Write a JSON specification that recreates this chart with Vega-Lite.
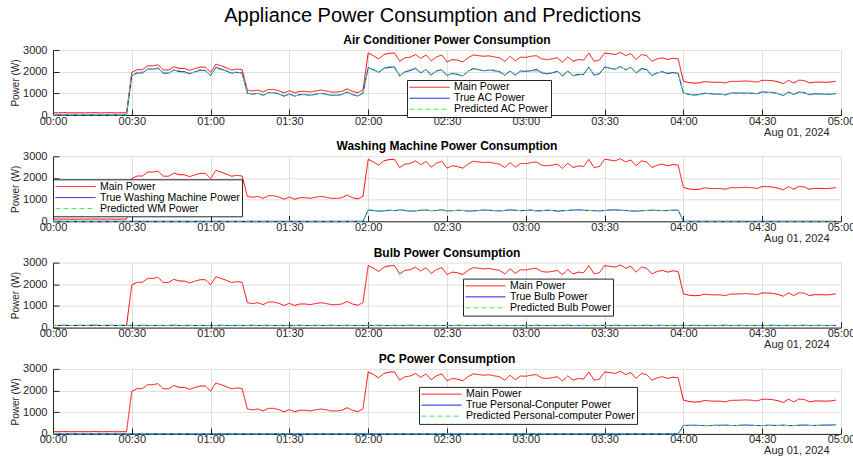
{
"$schema":"https://vega.github.io/schema/vega-lite/v6.json",
"padding":{"left":10,"top":6,"right":5,"bottom":0},
"title":{"text":"Appliance Power Consumption and Predictions","fontSize":20,"fontWeight":"normal","color":"#000000","anchor":"middle","offset":8},
"data":{"values":[
{"t":0,"m":102,"a":0,"ap":0,"w":0,"wp":0,"b":102,"bp":107,"p":0,"pp":0},
{"t":2,"m":98,"a":0,"ap":0,"w":0,"wp":0,"b":98,"bp":90,"p":0,"pp":0},
{"t":4,"m":105,"a":0,"ap":0,"w":0,"wp":0,"b":105,"bp":108,"p":0,"pp":0},
{"t":6,"m":100,"a":0,"ap":0,"w":0,"wp":0,"b":100,"bp":96,"p":0,"pp":0},
{"t":8,"m":97,"a":0,"ap":0,"w":0,"wp":0,"b":97,"bp":106,"p":0,"pp":0},
{"t":10,"m":103,"a":0,"ap":0,"w":0,"wp":0,"b":103,"bp":97,"p":0,"pp":0},
{"t":12,"m":99,"a":0,"ap":0,"w":0,"wp":0,"b":99,"bp":101,"p":0,"pp":0},
{"t":14,"m":101,"a":0,"ap":0,"w":0,"wp":0,"b":101,"bp":98,"p":0,"pp":0},
{"t":16,"m":106,"a":0,"ap":0,"w":0,"wp":0,"b":106,"bp":113,"p":0,"pp":0},
{"t":18,"m":98,"a":0,"ap":0,"w":0,"wp":0,"b":98,"bp":93,"p":0,"pp":0},
{"t":20,"m":100,"a":0,"ap":0,"w":0,"wp":0,"b":100,"bp":104,"p":0,"pp":0},
{"t":22,"m":104,"a":0,"ap":0,"w":0,"wp":0,"b":104,"bp":95,"p":0,"pp":0},
{"t":24,"m":96,"a":0,"ap":0,"w":0,"wp":0,"b":96,"bp":102,"p":0,"pp":0},
{"t":26,"m":102,"a":0,"ap":0,"w":0,"wp":0,"b":102,"bp":100,"p":0,"pp":0},
{"t":28,"m":99,"a":0,"ap":0,"w":0,"wp":0,"b":99,"bp":100,"p":0,"pp":0},
{"t":30,"m":1970,"a":1820,"ap":1850,"w":0,"wp":0,"b":102,"bp":107,"p":0,"pp":0},
{"t":32,"m":2090,"a":1940,"ap":1900,"w":0,"wp":0,"b":98,"bp":90,"p":0,"pp":0},
{"t":34,"m":2090,"a":1940,"ap":2000,"w":0,"wp":0,"b":105,"bp":108,"p":0,"pp":0},
{"t":36,"m":2270,"a":2120,"ap":2100,"w":0,"wp":0,"b":100,"bp":96,"p":0,"pp":0},
{"t":38,"m":2270,"a":2120,"ap":2130,"w":0,"wp":0,"b":97,"bp":106,"p":0,"pp":0},
{"t":40,"m":2320,"a":2170,"ap":2120,"w":0,"wp":0,"b":103,"bp":97,"p":0,"pp":0},
{"t":42,"m":2080,"a":1930,"ap":1970,"w":0,"wp":0,"b":99,"bp":101,"p":0,"pp":0},
{"t":44,"m":2080,"a":1930,"ap":1930,"w":0,"wp":0,"b":101,"bp":98,"p":0,"pp":0},
{"t":46,"m":2230,"a":2080,"ap":2050,"w":0,"wp":0,"b":106,"bp":113,"p":0,"pp":0},
{"t":48,"m":2150,"a":2000,"ap":2070,"w":0,"wp":0,"b":98,"bp":93,"p":0,"pp":0},
{"t":50,"m":2150,"a":2000,"ap":1940,"w":0,"wp":0,"b":100,"bp":104,"p":0,"pp":0},
{"t":52,"m":2060,"a":1910,"ap":1930,"w":0,"wp":0,"b":104,"bp":95,"p":0,"pp":0},
{"t":54,"m":2140,"a":1990,"ap":1980,"w":0,"wp":0,"b":96,"bp":102,"p":0,"pp":0},
{"t":56,"m":2210,"a":2060,"ap":2110,"w":0,"wp":0,"b":102,"bp":100,"p":0,"pp":0},
{"t":58,"m":2210,"a":2060,"ap":2020,"w":0,"wp":0,"b":99,"bp":100,"p":0,"pp":0},
{"t":60,"m":1970,"a":1820,"ap":1850,"w":0,"wp":0,"b":102,"bp":107,"p":0,"pp":0},
{"t":62,"m":2350,"a":2200,"ap":2180,"w":0,"wp":0,"b":98,"bp":90,"p":0,"pp":0},
{"t":64,"m":2270,"a":2120,"ap":2050,"w":0,"wp":0,"b":105,"bp":108,"p":0,"pp":0},
{"t":66,"m":2180,"a":2030,"ap":2070,"w":0,"wp":0,"b":100,"bp":96,"p":0,"pp":0},
{"t":68,"m":2080,"a":1930,"ap":1940,"w":0,"wp":0,"b":97,"bp":106,"p":0,"pp":0},
{"t":70,"m":2120,"a":1970,"ap":2000,"w":0,"wp":0,"b":103,"bp":97,"p":0,"pp":0},
{"t":72,"m":2090,"a":1940,"ap":1900,"w":0,"wp":0,"b":99,"bp":101,"p":0,"pp":0},
{"t":74,"m":1150,"a":1000,"ap":1030,"w":0,"wp":0,"b":101,"bp":98,"p":0,"pp":0},
{"t":76,"m":1110,"a":960,"ap":950,"w":0,"wp":0,"b":106,"bp":113,"p":0,"pp":0},
{"t":78,"m":1150,"a":1000,"ap":1000,"w":0,"wp":0,"b":98,"bp":93,"p":0,"pp":0},
{"t":80,"m":1060,"a":910,"ap":885,"w":0,"wp":0,"b":100,"bp":104,"p":0,"pp":0},
{"t":82,"m":1180,"a":1030,"ap":1050,"w":0,"wp":0,"b":104,"bp":95,"p":0,"pp":0},
{"t":84,"m":1180,"a":1030,"ap":1030,"w":0,"wp":0,"b":96,"bp":102,"p":0,"pp":0},
{"t":86,"m":1120,"a":970,"ap":955,"w":0,"wp":0,"b":102,"bp":100,"p":0,"pp":0},
{"t":88,"m":1020,"a":870,"ap":905,"w":0,"wp":0,"b":99,"bp":100,"p":0,"pp":0},
{"t":90,"m":1120,"a":970,"ap":940,"w":0,"wp":0,"b":102,"bp":107,"p":0,"pp":0},
{"t":92,"m":1020,"a":870,"ap":880,"w":0,"wp":0,"b":98,"bp":90,"p":0,"pp":0},
{"t":94,"m":1090,"a":940,"ap":935,"w":0,"wp":0,"b":105,"bp":108,"p":0,"pp":0},
{"t":96,"m":1090,"a":940,"ap":965,"w":0,"wp":0,"b":100,"bp":96,"p":0,"pp":0},
{"t":98,"m":1060,"a":910,"ap":890,"w":0,"wp":0,"b":97,"bp":106,"p":0,"pp":0},
{"t":100,"m":1110,"a":960,"ap":975,"w":0,"wp":0,"b":103,"bp":97,"p":0,"pp":0},
{"t":102,"m":1150,"a":1000,"ap":990,"w":0,"wp":0,"b":99,"bp":101,"p":0,"pp":0},
{"t":104,"m":1110,"a":960,"ap":925,"w":0,"wp":0,"b":101,"bp":98,"p":0,"pp":0},
{"t":106,"m":1060,"a":910,"ap":930,"w":0,"wp":0,"b":106,"bp":113,"p":0,"pp":0},
{"t":108,"m":1060,"a":910,"ap":915,"w":0,"wp":0,"b":98,"bp":93,"p":0,"pp":0},
{"t":110,"m":1090,"a":940,"ap":955,"w":0,"wp":0,"b":100,"bp":104,"p":0,"pp":0},
{"t":112,"m":1210,"a":1060,"ap":1040,"w":0,"wp":0,"b":104,"bp":95,"p":0,"pp":0},
{"t":114,"m":1090,"a":940,"ap":970,"w":0,"wp":0,"b":96,"bp":102,"p":0,"pp":0},
{"t":116,"m":1030,"a":880,"ap":870,"w":0,"wp":0,"b":102,"bp":100,"p":0,"pp":0},
{"t":118,"m":1150,"a":1000,"ap":1005,"w":0,"wp":0,"b":99,"bp":100,"p":0,"pp":0},
{"t":120,"m":2860,"a":2190,"ap":2140,"w":520,"wp":530,"b":102,"bp":107,"p":0,"pp":0},
{"t":122,"m":2740,"a":2090,"ap":2130,"w":500,"wp":485,"b":98,"bp":90,"p":0,"pp":0},
{"t":124,"m":2590,"a":1970,"ap":1970,"w":470,"wp":475,"b":105,"bp":108,"p":0,"pp":0},
{"t":126,"m":2790,"a":2160,"ap":2130,"w":480,"wp":470,"b":100,"bp":96,"p":0,"pp":0},
{"t":128,"m":2850,"a":2190,"ap":2260,"w":510,"wp":525,"b":97,"bp":106,"p":0,"pp":0},
{"t":130,"m":2860,"a":2220,"ap":2160,"w":490,"wp":485,"b":103,"bp":97,"p":0,"pp":0},
{"t":132,"m":2480,"a":1800,"ap":1820,"w":530,"wp":540,"b":99,"bp":101,"p":0,"pp":0},
{"t":134,"m":2640,"a":1990,"ap":1980,"w":500,"wp":480,"b":101,"bp":98,"p":0,"pp":0},
{"t":136,"m":2670,"a":2050,"ap":2100,"w":470,"wp":475,"b":106,"bp":113,"p":0,"pp":0},
{"t":138,"m":2790,"a":2160,"ap":2120,"w":480,"wp":480,"b":98,"bp":93,"p":0,"pp":0},
{"t":140,"m":2610,"a":1950,"ap":1980,"w":510,"wp":520,"b":100,"bp":104,"p":0,"pp":0},
{"t":142,"m":2770,"a":2100,"ap":2080,"w":520,"wp":505,"b":104,"bp":95,"p":0,"pp":0},
{"t":144,"m":2500,"a":1860,"ap":1790,"w":490,"wp":495,"b":96,"bp":102,"p":0,"pp":0},
{"t":146,"m":2680,"a":2030,"ap":2070,"w":500,"wp":490,"b":102,"bp":100,"p":0,"pp":0},
{"t":148,"m":2770,"a":2090,"ap":2100,"w":530,"wp":545,"b":99,"bp":100,"p":0,"pp":0},
{"t":150,"m":2450,"a":1820,"ap":1850,"w":480,"wp":475,"b":102,"bp":107,"p":0,"pp":0},
{"t":152,"m":2560,"a":1920,"ap":1880,"w":490,"wp":500,"b":98,"bp":90,"p":0,"pp":0},
{"t":154,"m":2530,"a":1870,"ap":1930,"w":510,"wp":490,"b":105,"bp":108,"p":0,"pp":0},
{"t":156,"m":2450,"a":1800,"ap":1780,"w":500,"wp":505,"b":100,"bp":96,"p":0,"pp":0},
{"t":158,"m":2640,"a":2020,"ap":2030,"w":470,"wp":470,"b":97,"bp":106,"p":0,"pp":0},
{"t":160,"m":2770,"a":2140,"ap":2090,"w":480,"wp":490,"b":103,"bp":97,"p":0,"pp":0},
{"t":162,"m":2740,"a":2090,"ap":2130,"w":500,"wp":485,"b":99,"bp":101,"p":0,"pp":0},
{"t":164,"m":2710,"a":2040,"ap":2040,"w":520,"wp":525,"b":101,"bp":98,"p":0,"pp":0},
{"t":166,"m":2730,"a":2070,"ap":2040,"w":510,"wp":500,"b":106,"bp":113,"p":0,"pp":0},
{"t":168,"m":2680,"a":2040,"ap":2110,"w":490,"wp":505,"b":98,"bp":93,"p":0,"pp":0},
{"t":170,"m":2640,"a":2010,"ap":1950,"w":480,"wp":475,"b":100,"bp":104,"p":0,"pp":0},
{"t":172,"m":2480,"a":1830,"ap":1850,"w":500,"wp":510,"b":104,"bp":95,"p":0,"pp":0},
{"t":174,"m":2710,"a":2030,"ap":2020,"w":530,"wp":510,"b":96,"bp":102,"p":0,"pp":0},
{"t":176,"m":2500,"a":1840,"ap":1890,"w":510,"wp":515,"b":102,"bp":100,"p":0,"pp":0},
{"t":178,"m":2670,"a":2030,"ap":1990,"w":490,"wp":490,"b":99,"bp":100,"p":0,"pp":0},
{"t":180,"m":2660,"a":2010,"ap":2040,"w":500,"wp":510,"b":102,"bp":107,"p":0,"pp":0},
{"t":182,"m":2710,"a":2040,"ap":2020,"w":520,"wp":505,"b":98,"bp":90,"p":0,"pp":0},
{"t":184,"m":2740,"a":2110,"ap":2040,"w":480,"wp":485,"b":105,"bp":108,"p":0,"pp":0},
{"t":186,"m":2590,"a":1950,"ap":1990,"w":490,"wp":480,"b":100,"bp":96,"p":0,"pp":0},
{"t":188,"m":2560,"a":1900,"ap":1910,"w":510,"wp":525,"b":97,"bp":106,"p":0,"pp":0},
{"t":190,"m":2590,"a":1940,"ap":1970,"w":500,"wp":495,"b":103,"bp":97,"p":0,"pp":0},
{"t":192,"m":2640,"a":2020,"ap":1980,"w":470,"wp":480,"b":99,"bp":101,"p":0,"pp":0},
{"t":194,"m":2440,"a":1800,"ap":1860,"w":490,"wp":470,"b":101,"bp":98,"p":0,"pp":0},
{"t":196,"m":2680,"a":2030,"ap":2010,"w":500,"wp":505,"b":106,"bp":113,"p":0,"pp":0},
{"t":198,"m":2480,"a":1810,"ap":1820,"w":520,"wp":520,"b":98,"bp":93,"p":0,"pp":0},
{"t":200,"m":2560,"a":1880,"ap":1830,"w":530,"wp":540,"b":100,"bp":104,"p":0,"pp":0},
{"t":202,"m":2530,"a":1870,"ap":1910,"w":510,"wp":495,"b":104,"bp":95,"p":0,"pp":0},
{"t":204,"m":2860,"a":2210,"ap":2210,"w":500,"wp":505,"b":96,"bp":102,"p":0,"pp":0},
{"t":206,"m":2480,"a":1840,"ap":1810,"w":490,"wp":480,"b":102,"bp":100,"p":0,"pp":0},
{"t":208,"m":2530,"a":1900,"ap":1970,"w":480,"wp":495,"b":99,"bp":100,"p":0,"pp":0},
{"t":210,"m":2860,"a":2210,"ap":2150,"w":500,"wp":495,"b":102,"bp":107,"p":0,"pp":0},
{"t":212,"m":2830,"a":2160,"ap":2180,"w":520,"wp":530,"b":98,"bp":90,"p":0,"pp":0},
{"t":214,"m":2790,"a":2110,"ap":2100,"w":530,"wp":510,"b":105,"bp":108,"p":0,"pp":0},
{"t":216,"m":2890,"a":2230,"ap":2280,"w":510,"wp":515,"b":100,"bp":96,"p":0,"pp":0},
{"t":218,"m":2740,"a":2090,"ap":2050,"w":500,"wp":500,"b":97,"bp":106,"p":0,"pp":0},
{"t":220,"m":2830,"a":2200,"ap":2230,"w":480,"wp":490,"b":103,"bp":97,"p":0,"pp":0},
{"t":222,"m":2560,"a":1940,"ap":1920,"w":470,"wp":455,"b":99,"bp":101,"p":0,"pp":0},
{"t":224,"m":2790,"a":2150,"ap":2080,"w":490,"wp":495,"b":101,"bp":98,"p":0,"pp":0},
{"t":226,"m":2740,"a":2090,"ap":2130,"w":500,"wp":490,"b":106,"bp":113,"p":0,"pp":0},
{"t":228,"m":2480,"a":1820,"ap":1830,"w":510,"wp":525,"b":98,"bp":93,"p":0,"pp":0},
{"t":230,"m":2590,"a":1940,"ap":1970,"w":500,"wp":495,"b":100,"bp":104,"p":0,"pp":0},
{"t":232,"m":2640,"a":2000,"ap":1960,"w":490,"wp":500,"b":104,"bp":95,"p":0,"pp":0},
{"t":234,"m":2560,"a":1910,"ap":1970,"w":500,"wp":480,"b":96,"bp":102,"p":0,"pp":0},
{"t":236,"m":2620,"a":1960,"ap":1940,"w":510,"wp":515,"b":102,"bp":100,"p":0,"pp":0},
{"t":238,"m":2590,"a":1920,"ap":1930,"w":520,"wp":520,"b":99,"bp":100,"p":0,"pp":0},
{"t":240,"m":1560,"a":1020,"ap":995,"w":0,"wp":0,"b":102,"bp":107,"p":390,"pp":380},
{"t":242,"m":1500,"a":955,"ap":975,"w":0,"wp":0,"b":98,"bp":90,"p":395,"pp":410},
{"t":244,"m":1470,"a":920,"ap":920,"w":0,"wp":0,"b":105,"bp":108,"p":400,"pp":395},
{"t":246,"m":1480,"a":945,"ap":930,"w":0,"wp":0,"b":100,"bp":96,"p":385,"pp":405},
{"t":248,"m":1540,"a":1000,"ap":1035,"w":0,"wp":0,"b":97,"bp":106,"p":390,"pp":375},
{"t":250,"m":1520,"a":990,"ap":960,"w":0,"wp":0,"b":103,"bp":97,"p":380,"pp":385},
{"t":252,"m":1510,"a":960,"ap":970,"w":0,"wp":0,"b":99,"bp":101,"p":400,"pp":380},
{"t":254,"m":1510,"a":965,"ap":960,"w":0,"wp":0,"b":101,"bp":98,"p":395,"pp":405},
{"t":256,"m":1480,"a":925,"ap":950,"w":0,"wp":0,"b":106,"bp":113,"p":405,"pp":405},
{"t":258,"m":1550,"a":1010,"ap":990,"w":0,"wp":0,"b":98,"bp":93,"p":390,"pp":385},
{"t":260,"m":1550,"a":1015,"ap":1030,"w":0,"wp":0,"b":100,"bp":104,"p":385,"pp":375},
{"t":262,"m":1560,"a":1010,"ap":1000,"w":0,"wp":0,"b":104,"bp":95,"p":400,"pp":415},
{"t":264,"m":1570,"a":1010,"ap":975,"w":0,"wp":0,"b":96,"bp":102,"p":410,"pp":405},
{"t":266,"m":1550,"a":1005,"ap":1025,"w":0,"wp":0,"b":102,"bp":100,"p":395,"pp":415},
{"t":268,"m":1520,"a":980,"ap":985,"w":0,"wp":0,"b":99,"bp":100,"p":390,"pp":375},
{"t":270,"m":1600,"a":1070,"ap":1085,"w":0,"wp":0,"b":102,"bp":107,"p":380,"pp":385},
{"t":272,"m":1600,"a":1050,"ap":1030,"w":0,"wp":0,"b":98,"bp":90,"p":400,"pp":380},
{"t":274,"m":1580,"a":1035,"ap":1065,"w":0,"wp":0,"b":105,"bp":108,"p":395,"pp":405},
{"t":276,"m":1530,"a":990,"ap":980,"w":0,"wp":0,"b":100,"bp":96,"p":390,"pp":390},
{"t":278,"m":1450,"a":895,"ap":900,"w":0,"wp":0,"b":97,"bp":106,"p":405,"pp":400},
{"t":280,"m":1600,"a":1065,"ap":1040,"w":0,"wp":0,"b":103,"bp":97,"p":385,"pp":375},
{"t":282,"m":1480,"a":950,"ap":970,"w":0,"wp":0,"b":99,"bp":101,"p":380,"pp":395},
{"t":284,"m":1610,"a":1060,"ap":1060,"w":0,"wp":0,"b":101,"bp":98,"p":400,"pp":395},
{"t":286,"m":1590,"a":1030,"ap":1015,"w":0,"wp":0,"b":106,"bp":113,"p":410,"pp":430},
{"t":288,"m":1480,"a":935,"ap":970,"w":0,"wp":0,"b":98,"bp":93,"p":395,"pp":380},
{"t":290,"m":1520,"a":980,"ap":950,"w":0,"wp":0,"b":100,"bp":104,"p":390,"pp":395},
{"t":292,"m":1520,"a":970,"ap":980,"w":0,"wp":0,"b":104,"bp":95,"p":400,"pp":380},
{"t":294,"m":1510,"a":955,"ap":950,"w":0,"wp":0,"b":96,"bp":102,"p":405,"pp":415},
{"t":296,"m":1520,"a":960,"ap":985,"w":0,"wp":0,"b":102,"bp":100,"p":410,"pp":410},
{"t":298,"m":1560,"a":990,"ap":970,"w":0,"wp":0,"b":99,"bp":100,"p":420,"pp":415}
]},
"spacing":3.3,
"resolve":{"scale":{"color":"independent","strokeDash":"independent"},"legend":{"color":"independent","strokeDash":"independent"}},
"vconcat":[
{"title":{"text":"Air Conditioner Power Consumption"},"width":788,"height":65,
"transform":[{"fold":["m","a","ap"],"as":["s","v"]}],
"mark":{"type":"line","strokeWidth":1},
"encoding":{
"x":{"field":"t","type":"quantitative","scale":{"domain":[0,300],"nice":false},"axis":{"values":[0,30,60,90,120,150,180,210,240,270,300],"title":"Aug 01, 2024"}},
"y":{"field":"v","type":"quantitative","scale":{"domain":[0,3000],"nice":false},"axis":{"values":[0,1000,2000,3000],"format":"d","title":"Power (W)"}},
"color":{"field":"s","type":"nominal","scale":{"domain":["m","a","ap"],"range":["#ff0000","#0000ff","#44ee44"]},"legend":{"title":null,"orient":"none","legendX":354,"legendY":30,"labelExpr":"datum.value=='m'?'Main Power':datum.value=='a'?'True AC Power':'Predicted AC Power'"}},
"strokeDash":{"field":"s","type":"nominal","scale":{"domain":["m","a","ap"],"range":[[1,0],[1,0],[5,3]]},"legend":{"title":null,"orient":"none","legendX":354,"legendY":30,"labelExpr":"datum.value=='m'?'Main Power':datum.value=='a'?'True AC Power':'Predicted AC Power'"}}
}},
{"title":{"text":"Washing Machine Power Consumption"},"width":788,"height":65,
"transform":[{"fold":["m","w","wp"],"as":["s","v"]}],
"mark":{"type":"line","strokeWidth":1},
"encoding":{
"x":{"field":"t","type":"quantitative","scale":{"domain":[0,300],"nice":false},"axis":{"values":[0,30,60,90,120,150,180,210,240,270,300],"title":"Aug 01, 2024"}},
"y":{"field":"v","type":"quantitative","scale":{"domain":[0,3000],"nice":false},"axis":{"values":[0,1000,2000,3000],"format":"d","title":"Power (W)"}},
"color":{"field":"s","type":"nominal","scale":{"domain":["m","w","wp"],"range":["#ff0000","#0000ff","#44ee44"]},"legend":{"title":null,"orient":"none","legendX":0,"legendY":23,"labelExpr":"datum.value=='m'?'Main Power':datum.value=='w'?'True Washing Machine Power':'Predicted WM Power'"}},
"strokeDash":{"field":"s","type":"nominal","scale":{"domain":["m","w","wp"],"range":[[1,0],[1,0],[5,3]]},"legend":{"title":null,"orient":"none","legendX":0,"legendY":23,"labelExpr":"datum.value=='m'?'Main Power':datum.value=='w'?'True Washing Machine Power':'Predicted WM Power'"}}
}},
{"title":{"text":"Bulb Power Consumption"},"width":788,"height":65,
"transform":[{"fold":["m","b","bp"],"as":["s","v"]}],
"mark":{"type":"line","strokeWidth":1},
"encoding":{
"x":{"field":"t","type":"quantitative","scale":{"domain":[0,300],"nice":false},"axis":{"values":[0,30,60,90,120,150,180,210,240,270,300],"title":"Aug 01, 2024"}},
"y":{"field":"v","type":"quantitative","scale":{"domain":[0,3000],"nice":false},"axis":{"values":[0,1000,2000,3000],"format":"d","title":"Power (W)"}},
"color":{"field":"s","type":"nominal","scale":{"domain":["m","b","bp"],"range":["#ff0000","#0000ff","#44ee44"]},"legend":{"title":null,"orient":"none","legendX":410,"legendY":16,"labelExpr":"datum.value=='m'?'Main Power':datum.value=='b'?'True Bulb Power':'Predicted Bulb Power'"}},
"strokeDash":{"field":"s","type":"nominal","scale":{"domain":["m","b","bp"],"range":[[1,0],[1,0],[5,3]]},"legend":{"title":null,"orient":"none","legendX":410,"legendY":16,"labelExpr":"datum.value=='m'?'Main Power':datum.value=='b'?'True Bulb Power':'Predicted Bulb Power'"}}
}},
{"title":{"text":"PC Power Consumption"},"width":788,"height":65,
"transform":[{"fold":["m","p","pp"],"as":["s","v"]}],
"mark":{"type":"line","strokeWidth":1},
"encoding":{
"x":{"field":"t","type":"quantitative","scale":{"domain":[0,300],"nice":false},"axis":{"values":[0,30,60,90,120,150,180,210,240,270,300],"title":"Aug 01, 2024"}},
"y":{"field":"v","type":"quantitative","scale":{"domain":[0,3000],"nice":false},"axis":{"values":[0,1000,2000,3000],"format":"d","title":"Power (W)"}},
"color":{"field":"s","type":"nominal","scale":{"domain":["m","p","pp"],"range":["#ff0000","#0000ff","#44ee44"]},"legend":{"title":null,"orient":"none","legendX":366,"legendY":18,"labelExpr":"datum.value=='m'?'Main Power':datum.value=='p'?'True Personal-Conputer Power':'Predicted Personal-computer Power'"}},
"strokeDash":{"field":"s","type":"nominal","scale":{"domain":["m","p","pp"],"range":[[1,0],[1,0],[5,3]]},"legend":{"title":null,"orient":"none","legendX":366,"legendY":18,"labelExpr":"datum.value=='m'?'Main Power':datum.value=='p'?'True Personal-Conputer Power':'Predicted Personal-computer Power'"}}
}}
],
"config":{
"font":"Liberation Sans",
"view":{"stroke":null},
"axis":{"labelFont":"Liberation Sans","titleFont":"Liberation Sans","labelFontSize":11,"labelColor":"#262626","titleFontSize":11,"titleFontWeight":"normal","titleColor":"#262626","domainColor":"#262626","tickColor":"#262626","gridColor":"#dfdfdf","gridWidth":1},
"axisX":{"labelFlush":false,"labelOverlap":false,"tickSize":-6,"labelPadding":6,"titleX":776,"titleAlign":"right","titlePadding":0,"labelExpr":"(floor(datum.value/60)<10?'0':'')+floor(datum.value/60)+':'+(datum.value%60<10?'0':'')+(datum.value%60)"},
"axisY":{"tickSize":-6,"labelPadding":12,"titleFontSize":10,"titlePadding":2},
"legend":{"symbolType":"stroke","symbolSize":1600,"symbolStrokeWidth":1,"fillColor":"#ffffff","strokeColor":"#262626","padding":2,"rowPadding":0,"clipHeight":10.5,"labelFontSize":10.5,"labelLimit":400,"labelColor":"#000000","labelFont":"Liberation Sans","labelOffset":4},
"title":{"fontSize":12,"fontWeight":"bold","color":"#000000","offset":-3,"font":"Liberation Sans"}
}
}
